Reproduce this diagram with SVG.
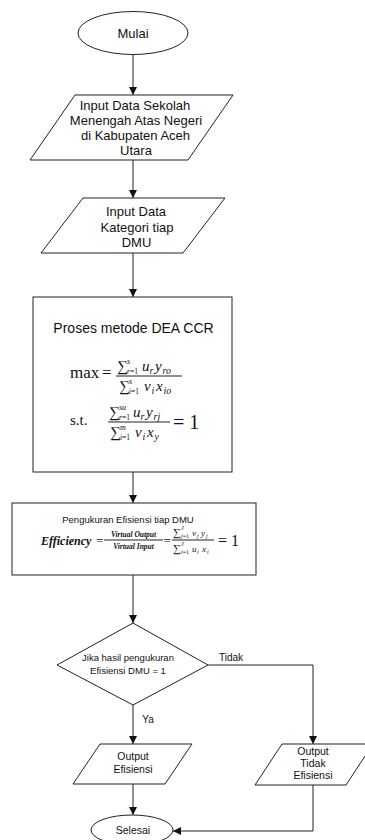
<svg xmlns="http://www.w3.org/2000/svg" width="365" height="840" viewBox="0 0 365 840">
<defs>
<style>
.shape{fill:#fff;stroke:#222;stroke-width:1}
.conn{fill:none;stroke:#222;stroke-width:1}
.t{font-family:"Liberation Sans",Arial,sans-serif;fill:#111;text-anchor:middle}
.m{font-family:"Liberation Serif","DejaVu Serif",serif;fill:#111}
.i{font-style:italic}
</style>
<marker id="ah" markerUnits="userSpaceOnUse" markerWidth="8" markerHeight="8" refX="8" refY="4" orient="auto">
<path d="M0,0 L8,4 L0,8 z" fill="#111"/>
</marker>
</defs>
<rect width="365" height="840" fill="#fff"/>

<g id="connectors">
<path class="conn" d="M133,55 V95" marker-end="url(#ah)"/>
<path class="conn" d="M133,160 V198" marker-end="url(#ah)"/>
<path class="conn" d="M133,253 V297" marker-end="url(#ah)"/>
<path class="conn" d="M133,472 V503" marker-end="url(#ah)"/>
<path class="conn" d="M133,575 V623" marker-end="url(#ah)"/>
<path class="conn" d="M133,705 V744" marker-end="url(#ah)"/>
<path class="conn" d="M208,665 H313 V744" marker-end="url(#ah)"/>
<path class="conn" d="M133,784 V815" marker-end="url(#ah)"/>
<path class="conn" d="M313,785 V831 H173" marker-end="url(#ah)"/>
<text class="t" x="231" y="661" font-size="10">Tidak</text>
<text class="t" x="148" y="723" font-size="10">Ya</text>
</g>

<g id="mulai">
<ellipse class="shape" cx="133" cy="33" rx="55" ry="21.5"/>
<text class="t" x="133" y="38" font-size="13">Mulai</text>
</g>

<g id="input-sekolah">
<polygon class="shape" points="75,95 233,95 188,160 30,160"/>
<text class="t" x="135" y="110" font-size="13">Input Data Sekolah</text>
<text class="t" x="136" y="125" font-size="13">Menengah Atas Negeri</text>
<text class="t" x="135.5" y="140" font-size="13">di Kabupaten Aceh</text>
<text class="t" x="136" y="155" font-size="13">Utara</text>
</g>

<g id="input-kategori">
<polygon class="shape" points="83,198 225,198 183,253 41,253"/>
<text class="t" x="136" y="216" font-size="13">Input Data</text>
<text class="t" x="137" y="232" font-size="13">Kategori tiap</text>
<text class="t" x="136.5" y="247" font-size="13">DMU</text>
</g>

<g id="proses-dea">
<rect class="shape" x="33" y="297" width="199" height="175"/>
<text class="t" x="133.5" y="333" font-size="14">Proses metode DEA CCR</text>
<text class="m" x="70" y="378" font-size="17">max</text>
<text class="m" x="102" y="378" font-size="17">=</text>
<line class="conn" x1="116" y1="376" x2="182" y2="376"/>
<text class="m" x="117" y="371" font-size="15">∑</text>
<text class="m i" x="127" y="364" font-size="8">s</text>
<text class="m" x="127" y="374" font-size="7.5"><tspan class="i">r</tspan>=1</text>
<text class="m i" x="142" y="371" font-size="15">u</text>
<text class="m i" x="149.5" y="374" font-size="10">r</text>
<text class="m i" x="155" y="371" font-size="15">y</text>
<text class="m i" x="162.5" y="374" font-size="10">ro</text>
<text class="m" x="119" y="391" font-size="15">∑</text>
<text class="m i" x="129" y="384" font-size="8">s</text>
<text class="m" x="129" y="394" font-size="7.5"><tspan class="i">i</tspan>=1</text>
<text class="m i" x="144" y="391" font-size="15">v</text>
<text class="m i" x="151.5" y="394" font-size="10">i</text>
<text class="m i" x="156" y="391" font-size="15">x</text>
<text class="m i" x="163.5" y="394" font-size="10">io</text>

<text class="m" x="70" y="425" font-size="15">s.t.</text>
<line class="conn" x1="108" y1="422" x2="170" y2="422"/>
<text class="m" x="109" y="417" font-size="15">∑</text>
<text class="m i" x="119" y="410" font-size="8">su</text>
<text class="m" x="119" y="420" font-size="7.5"><tspan class="i">r</tspan>=1</text>
<text class="m i" x="133" y="417" font-size="15">u</text>
<text class="m i" x="140.5" y="420" font-size="10">r</text>
<text class="m i" x="146" y="417" font-size="15">y</text>
<text class="m i" x="153.5" y="420" font-size="10">rj</text>
<text class="m" x="110" y="437" font-size="15">∑</text>
<text class="m i" x="120" y="430" font-size="8">m</text>
<text class="m" x="120" y="440" font-size="7.5"><tspan class="i">i</tspan>=1</text>
<text class="m i" x="135" y="437" font-size="15">v</text>
<text class="m i" x="142.5" y="440" font-size="10">i</text>
<text class="m i" x="147" y="437" font-size="15">x</text>
<text class="m i" x="154.5" y="440" font-size="10">y</text>
<text class="m" x="173" y="429" font-size="20">= 1</text>
</g>

<g id="pengukuran">
<rect class="shape" x="12" y="503" width="244" height="72"/>
<text class="t" x="128" y="523" font-size="9.5">Pengukuran Efisiensi tiap DMU</text>
<text class="m i" x="41" y="545" font-size="12" font-weight="bold">Efficiency</text>
<text class="m" x="96" y="545" font-size="13">=</text>
<line class="conn" x1="104" y1="540" x2="163" y2="540"/>
<text class="m i" x="133.5" y="537" font-size="7.5" font-weight="bold" text-anchor="middle">Virtual Output</text>
<text class="m i" x="133.5" y="549" font-size="7.5" font-weight="bold" text-anchor="middle">Virtual Input</text>
<text class="m" x="163.5" y="545" font-size="13">=</text>
<line class="conn" x1="172" y1="540" x2="214" y2="540"/>
<text class="m" x="173" y="536" font-size="11">∑</text>
<text class="m i" x="181" y="530" font-size="6">J</text>
<text class="m" x="181" y="538" font-size="6"><tspan class="i">j</tspan>=1</text>
<text class="m i" x="192" y="536" font-size="9">v</text>
<text class="m i" x="197" y="538" font-size="6">j</text>
<text class="m i" x="201" y="536" font-size="9">y</text>
<text class="m i" x="206" y="538" font-size="6">j</text>
<text class="m" x="173" y="552" font-size="11">∑</text>
<text class="m i" x="181" y="546" font-size="6">J</text>
<text class="m" x="181" y="554" font-size="6"><tspan class="i">i</tspan>=1</text>
<text class="m i" x="192" y="552" font-size="9">u</text>
<text class="m i" x="197" y="554" font-size="6">i</text>
<text class="m i" x="202" y="552" font-size="9">x</text>
<text class="m i" x="207" y="554" font-size="6">i</text>
<text class="m" x="218" y="546" font-size="16">= 1</text>
</g>

<g id="keputusan">
<polygon class="shape" points="133,623 208,665 133,705 57,665"/>
<text class="t" x="128" y="661" font-size="9.5">Jika hasil pengukuran</text>
<text class="t" x="128" y="674" font-size="9.5">Efisiensi DMU = 1</text>
</g>

<g id="output-efisiensi">
<polygon class="shape" points="100,744 192,744 165,784 73,784"/>
<text class="t" x="133" y="760" font-size="10.5">Output</text>
<text class="t" x="133" y="773" font-size="10.5">Efisiensi</text>
</g>

<g id="output-tidak-efisiensi">
<polygon class="shape" points="282,744 373,744 346,785 255,785"/>
<text class="t" x="313" y="755" font-size="10.5">Output</text>
<text class="t" x="313" y="767" font-size="10.5">Tidak</text>
<text class="t" x="313" y="779" font-size="10.5">Efisiensi</text>
</g>

<g id="selesai">
<ellipse class="shape" cx="132" cy="830" rx="41" ry="15"/>
<text class="t" x="133" y="834" font-size="10.5">Selesai</text>
</g>
</svg>
